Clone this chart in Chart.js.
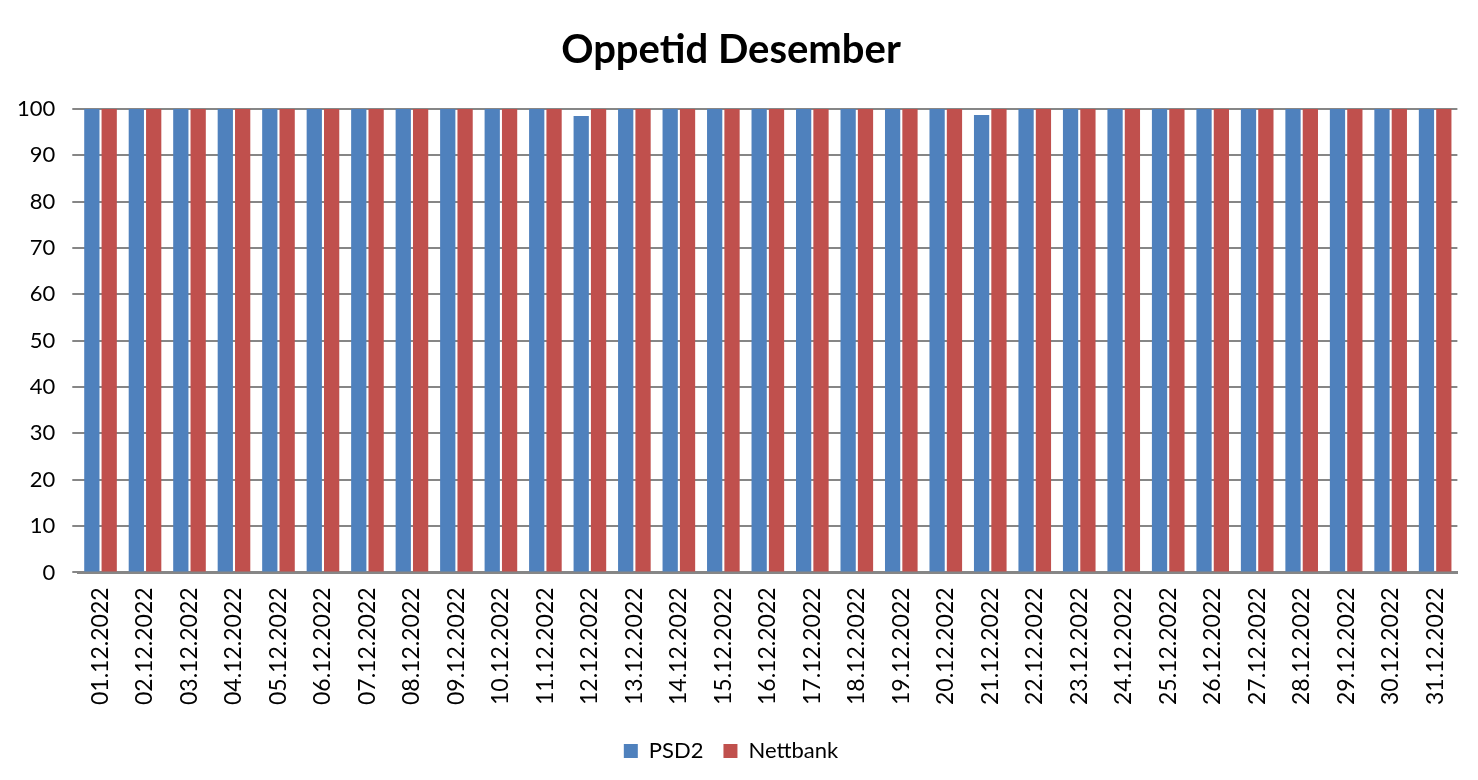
<!DOCTYPE html>
<html>
<head>
<meta charset="utf-8">
<script src="https://cdn.jsdelivr.net/npm/chart.js@4"></script>
<style>
  body { margin: 0; background: #fff; }
  #wrap { width: 1478px; height: 780px; }
</style>
</head>
<body>
<div id="wrap"><canvas id="uptime"></canvas></div>
<script>
const days = ['01.12.2022','02.12.2022','03.12.2022','04.12.2022','05.12.2022','06.12.2022','07.12.2022','08.12.2022','09.12.2022','10.12.2022','11.12.2022','12.12.2022','13.12.2022','14.12.2022','15.12.2022','16.12.2022','17.12.2022','18.12.2022','19.12.2022','20.12.2022','21.12.2022','22.12.2022','23.12.2022','24.12.2022','25.12.2022','26.12.2022','27.12.2022','28.12.2022','29.12.2022','30.12.2022','31.12.2022']
const psd2 = [100,100,100,100,100,100,100,100,100,100,100,98.5,100,100,100,100,100,100,100,100,98.7,100,100,100,100,100,100,100,100,100,100]
const nettbank = [100,100,100,100,100,100,100,100,100,100,100,100,100,100,100,100,100,100,100,100,100,100,100,100,100,100,100,100,100,100,100]

const gridColor = '#868686'
Chart.defaults.font.family = "Lato, 'Open Sans', sans-serif"
Chart.defaults.color = '#000000'

const uptimeConfig = {
    type: 'bar',
    data: {
        labels: days,
        datasets: [
            {
                label: 'PSD2',
                backgroundColor: '#4F81BD',
                data: psd2,
            },
            {
                label: 'Nettbank',
                backgroundColor: '#C0504D',
                data: nettbank,
            }
        ]
    },
    options: {
        responsive: true,
        maintainAspectRatio: false,
        animation: false,
        layout: { padding: { left: 0, right: 16, top: 6, bottom: 8 } },
        datasets: {
            bar: { barPercentage: 0.88, categoryPercentage: 0.78 }
        },
        scales: {
            x: {
                grid: { display: false, drawTicks: false },
                border: { color: gridColor, width: 3 },
                ticks: {
                    maxRotation: 90,
                    minRotation: 90,
                    autoSkip: false,
                    padding: 15,
                    font: { size: 23 }
                }
            },
            y: {
                min: 0,
                max: 100,
                grid: { color: gridColor, lineWidth: 2, tickLength: 6 },
                border: { display: false },
                ticks: {
                    stepSize: 10,
                    padding: 17,
                    font: { size: 22 }
                }
            }
        },
        plugins: {
            title: {
                display: true,
                text: 'Oppetid Desember',
                color: '#000000',
                padding: { top: 20, bottom: 35 },
                font: { weight: 'bold', size: 40 }
            },
            legend: {
                position: 'bottom',
                labels: {
                    boxWidth: 14,
                    boxHeight: 14,
                    padding: 20,
                    font: { size: 22 }
                }
            },
            tooltip: { enabled: false }
        }
    }
};

const uptime = new Chart(document.getElementById('uptime'), uptimeConfig);
</script>
</body>
</html>
